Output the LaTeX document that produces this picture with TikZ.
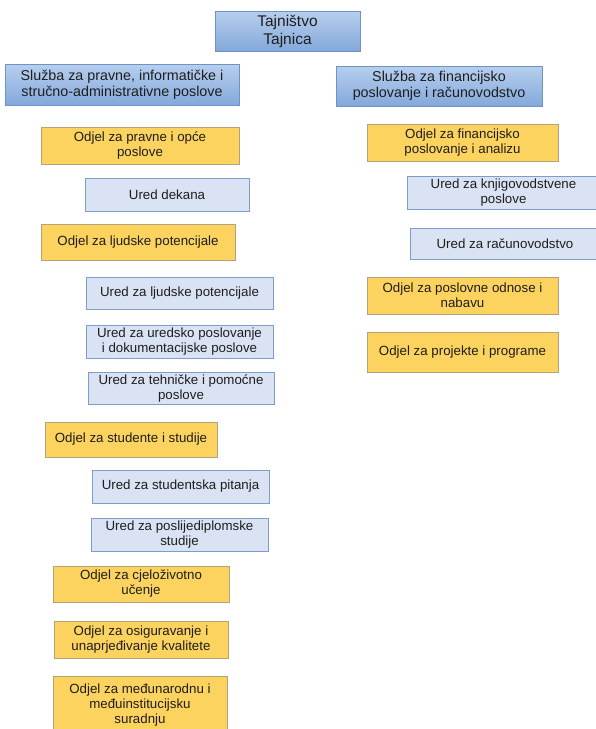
\documentclass[tikz,border=0pt]{standalone}
\usepackage{fontspec}
\setmainfont{Liberation Sans}
\definecolor{topblue}{HTML}{B7CFEF}
\definecolor{botblue}{HTML}{84A8DA}
\definecolor{blueline}{HTML}{6E93C6}
\definecolor{lightblue}{HTML}{DAE3F3}
\definecolor{lightline}{HTML}{7F9DC9}
\definecolor{odjfill}{HTML}{FCD35F}
\definecolor{odjline}{HTML}{B4A27A}
\definecolor{txt}{HTML}{1E1E1E}
\tikzset{
  box/.style={rectangle, inner sep=0pt, align=center, text=txt, line width=0.9pt},
  mainbox/.style={box, draw=blueline, top color=topblue, bottom color=botblue,
    font=\fontsize{14.3}{16}\selectfont},
  topbox/.style={mainbox, font=\fontsize{15.5}{18}\selectfont},
  uredbox/.style={box, draw=lightline, fill=lightblue, font=\fontsize{13.3}{15}\selectfont},
  odjelbox/.style={box, draw=odjline, fill=odjfill, font=\fontsize{13.3}{15}\selectfont},
}
\begin{document}
\begin{tikzpicture}[x=1pt,y=-1pt]
\useasboundingbox (0,0) rectangle (596,729);
\clip (0,0) rectangle (596,729);
\fill[white] (0,0) rectangle (596,729);
% top
\node[topbox, minimum width=145pt, minimum height=40pt] (tajn) at (287.5,31) {Tajništvo\\Tajnica};
% services
\node[mainbox, minimum width=234pt, minimum height=41pt] (sl1) at (122,84.5) {Služba za pravne, informatičke i\\stručno-administrativne poslove};
\node[mainbox, minimum width=206pt, minimum height=40pt] (sl2) at (439,86) {Služba za financijsko\\poslovanje i računovodstvo};
% left column
\node[odjelbox, minimum width=198pt, minimum height=37pt] (o1) at (140,145.5) {Odjel za pravne i opće\\poslove};
\node[uredbox, minimum width=164pt, minimum height=33pt] (u1) at (167,194.5) {Ured dekana};
\node[odjelbox, minimum width=194pt, minimum height=36pt] (o2) at (138,242) {Odjel za ljudske potencijale};
\node[uredbox, minimum width=187pt, minimum height=32pt] (u2) at (179.5,293) {Ured za ljudske potencijale};
\node[uredbox, minimum width=187pt, minimum height=33pt] (u3) at (179.5,341.5) {Ured za uredsko poslovanje\\i dokumentacijske poslove};
\node[uredbox, minimum width=186pt, minimum height=32pt] (u4) at (181,388) {Ured za tehničke i pomoćne\\poslove};
\node[odjelbox, minimum width=172pt, minimum height=35pt] (o3) at (131,439.5) {Odjel za studente i studije};
\node[uredbox, minimum width=177pt, minimum height=33pt] (u5) at (180.5,486.5) {Ured za studentska pitanja};
\node[uredbox, minimum width=177pt, minimum height=33pt] (u6) at (179.5,534.5) {Ured za poslijediplomske\\studije};
\node[odjelbox, minimum width=176pt, minimum height=36pt] (o4) at (141,584) {Odjel za cjeloživotno\\učenje};
\node[odjelbox, minimum width=174pt, minimum height=37pt] (o5) at (141,639.5) {Odjel za osiguravanje i\\unaprjeđivanje kvalitete};
\node[odjelbox, minimum width=174pt, minimum height=58pt] (o6) at (140,705) {Odjel za međunarodnu i\\međuinstitucijsku\\suradnju};
% right column
\node[odjelbox, minimum width=191pt, minimum height=37pt] (r1) at (462.5,142.5) {Odjel za financijsko\\poslovanje i analizu};
\node[uredbox, minimum width=193pt, minimum height=33pt] (r2) at (503.5,192.5) {Ured za knjigovodstvene\\poslove};
\node[uredbox, minimum width=190pt, minimum height=31pt] (r3) at (505,243.5) {Ured za računovodstvo};
\node[odjelbox, minimum width=191pt, minimum height=37pt] (r4) at (462.5,295.5) {Odjel za poslovne odnose i\\nabavu};
\node[odjelbox, minimum width=191pt, minimum height=40pt] (r5) at (462.5,352) {Odjel za projekte i programe};
\end{tikzpicture}
\end{document}
